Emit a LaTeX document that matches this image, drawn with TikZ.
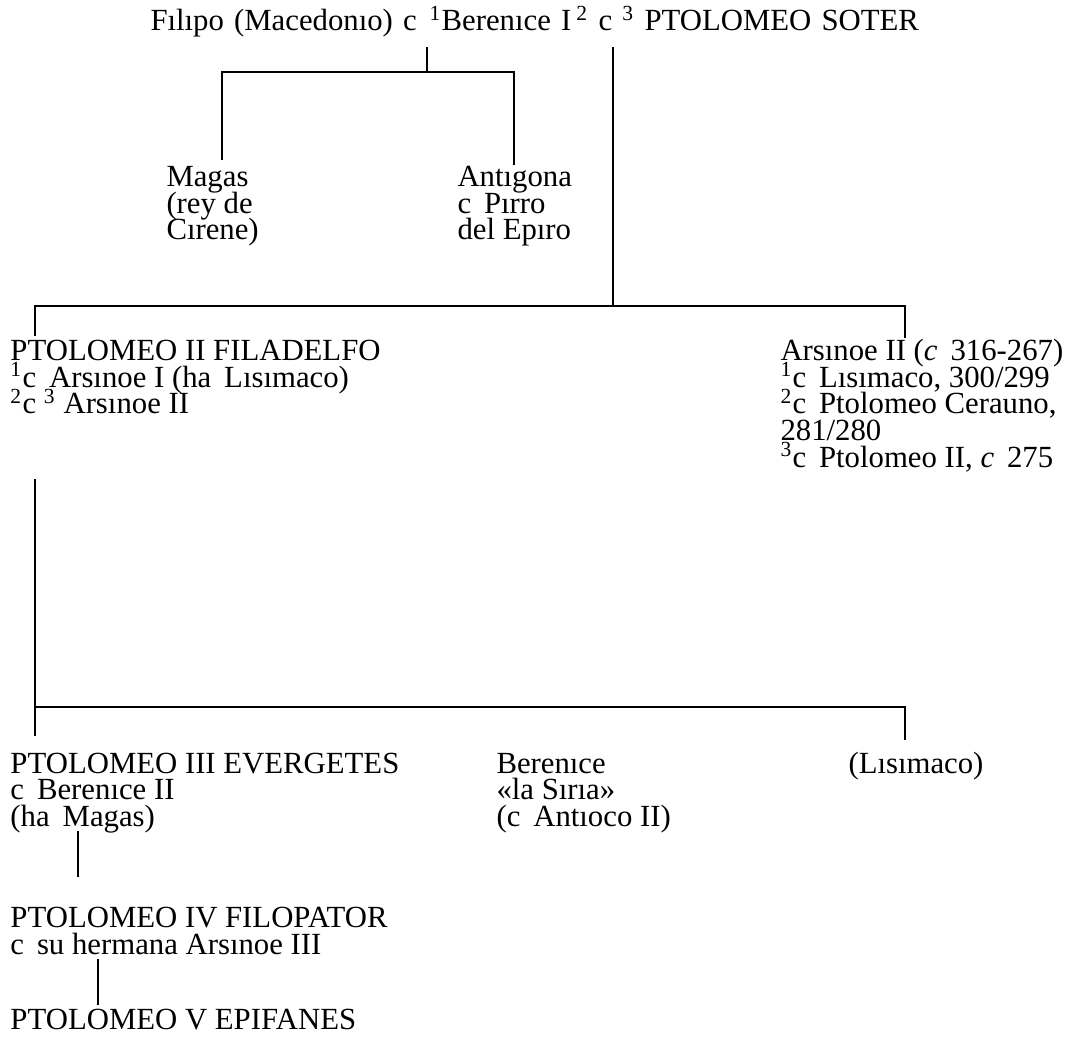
\documentclass[tikz,border=0pt]{standalone}
\usepackage{fontspec}
\setmainfont{Liberation Serif}
\usetikzlibrary{calc}
\newcommand{\cg}{\hspace{0.42em}}
\newcommand{\tightlines}{\setlength{\lineskiplimit}{-100pt}}
\tikzset{
  person/.style={anchor=base west, inner sep=0pt, align=left,
    font=\fontsize{12.3pt}{10.6pt}\selectfont\tightlines},
  kin/.style={line width=0.8pt, line cap=rect},
}

\begin{document}
\begin{tikzpicture}[x=0.4pt, y=-0.4pt]
  \useasboundingbox (0,0) rectangle (1070,1044);
  % generation I (base = last line of each node)
  \node[person] (soter) at (150,31)
    {\setlength{\spaceskip}{0.33em}F\i l\i po (Macedon\i o) c\cg\textsuperscript{1}Beren\i ce I\,\textsuperscript{2} c \textsuperscript{3} PTOLOMEO SOTER};
  \coordinate (wedA) at (427,48);
  \coordinate (wedB) at (613,48);
  % children of Filipo and Berenice
  \node[person] (magas) at (166,240) {Magas\\(rey de\\C\i rene)};
  \node[person] (antigona) at (457,240) {Ant\i gona\\c\cg P\i rro\\del Ep\i ro};
  \draw[kin] (wedA) -- ++(0,24) coordinate (barA);
  \draw[kin] ($(magas.north west)+(56,-7)$) |- (barA) -| ($(antigona.north west)+(57,-2)$);
  % children of Soter
  \node[person] (ptii) at (10,414)
    {PTOLOMEO II FILADELFO\\\textsuperscript{1}c\cg Ars\i noe I (ha\cg L\i s\i maco)\\\textsuperscript{2}c \textsuperscript{3} Ars\i noe II};
  \node[person] (arsii) at (780,467)
    {Ars\i noe II (\textit{c}\cg 316-267)\\\textsuperscript{1}c\cg L\i s\i maco, 300/299\\\textsuperscript{2}c\cg Ptolomeo Cerauno,\\281/280\\\textsuperscript{3}c\cg Ptolomeo II, \textit{c}\cg 275};
  \draw[kin] (wedB) -- ++(0,258) coordinate (barB);
  \draw[kin] ($(ptii.north west)+(25,-5)$) |- (barB) -| ($(arsii.north west)+(125,-2)$);
  % children of Ptolomeo II
  \node[person] (ptiii) at (10,826) {PTOLOMEO III EVERGETES\\c\cg Beren\i ce II\\(ha\cg Magas)};
  \node[person] (berenice) at (496,826) {Beren\i ce\\«la S\i r\i a»\\(c\cg Ant\i oco II)};
  \node[person] (lisimaco) at (848,773) {(L\i s\i maco)};
  \draw[kin] ($(ptii.south west)+(25,65)$) -- ++(0,227) coordinate (barC);
  \draw[kin] ($(ptiii.north west)+(25,-17)$) |- (barC) -| ($(lisimaco.north west)+(57,-12)$);
  \draw[kin] ($(berenice.north west)+(18,-9)$) -- ($(berenice.north west)+(18,-9)$ |- barC);
  % later kings
  \node[person] (ptiv) at (10,954) {PTOLOMEO IV FILOPATOR\\c\cg su hermana Ars\i noe III};
  \node[person] (ptv) at (10,1029) {PTOLOMEO V EPIFANES};
  \draw[kin] ($(ptiii.south west)+(68,-1)$) -- ($(ptiv.north west)+(68,-31)$);
  \draw[kin] ($(ptiv.south west)+(88,5)$) -- ($(ptv.north west)+(88,-4)$);
\end{tikzpicture}
\end{document}
